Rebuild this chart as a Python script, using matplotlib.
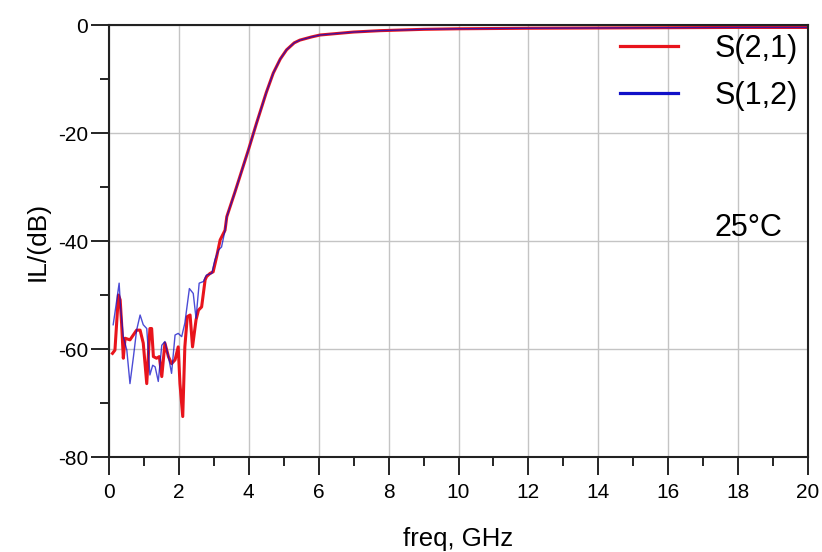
import matplotlib
matplotlib.use("Agg")
import matplotlib.pyplot as plt
import numpy as np
from matplotlib.ticker import MultipleLocator

plt.rcParams['font.family'] = ['Liberation Sans', 'DejaVu Sans']
plt.rcParams['axes.unicode_minus'] = False

# shared upper part of the response (both traces overlap here)
f_hi = [3.37, 3.6, 3.99, 4.22, 4.5, 4.7, 4.9, 5.08, 5.3, 5.46, 5.8, 6.04, 7.0, 7.75,
        9.0, 10.0, 12.0, 14.0, 16.0, 18.0, 20.0]
il_hi = [-35.5, -31.0, -23.1, -18.2, -12.5, -8.9, -6.3, -4.6, -3.3, -2.8, -2.2, -1.85,
         -1.3, -1.05, -0.8, -0.7, -0.6, -0.55, -0.5, -0.45, -0.45]

# S(2,1) noisy stopband
f_s21 = [0.1, 0.17, 0.27, 0.32, 0.36, 0.41, 0.46, 0.6, 0.79, 0.89, 0.98, 1.08, 1.17,
         1.22, 1.27, 1.36, 1.44, 1.51, 1.6, 1.7, 1.79, 1.89, 1.98, 2.03, 2.11, 2.17,
         2.24, 2.32, 2.39, 2.49, 2.56, 2.65, 2.75, 2.79, 2.89, 2.98, 3.08, 3.18, 3.32]
il_s21 = [-60.8, -60.2, -50.0, -50.9, -55.2, -61.7, -58.0, -58.3, -56.5, -56.5, -58.9,
          -66.4, -56.2, -56.2, -61.4, -61.7, -61.4, -65.1, -58.9, -61.4, -62.7, -62.0,
          -59.6, -66.4, -72.5, -59.6, -54.0, -53.7, -59.6, -54.6, -52.8, -52.2, -47.2,
          -46.6, -46.0, -45.7, -42.9, -39.8, -38.0]

# S(1,2) noisy stopband
f_s12 = [0.12, 0.21, 0.29, 0.33, 0.41, 0.51, 0.6, 0.7, 0.79, 0.89, 0.98, 1.08, 1.17,
         1.25, 1.32, 1.41, 1.51, 1.6, 1.7, 1.79, 1.89, 1.98, 2.08, 2.17, 2.3, 2.41,
         2.49, 2.58, 2.7, 2.79, 2.94, 3.03, 3.13, 3.22, 3.32]
il_s12 = [-55.5, -51.5, -47.8, -52.2, -57.7, -60.2, -66.4, -61.4, -56.5, -53.7, -55.5,
          -56.2, -64.8, -63.0, -63.3, -66.0, -59.3, -58.6, -61.4, -64.5, -57.4, -57.1,
          -57.7, -55.2, -48.8, -49.7, -54.3, -47.8, -47.5, -46.3, -46.0, -43.5, -41.7,
          -41.1, -38.0]

fig = plt.figure(figsize=(8.22, 5.52), dpi=100)
ax = fig.add_axes([0.1326, 0.172, 0.8504, 0.7827])

ax.plot(f_s21 + f_hi, il_s21 + il_hi, color='#e8141c', lw=2.2, label='S(2,1)')
ax.plot(f_s12 + f_hi, il_s12 + il_hi, color='#1010c8', lw=1.0, alpha=0.75, label='S(1,2)')

ax.set_xlim(0, 20)
ax.set_ylim(-80, 0)
ax.xaxis.set_major_locator(MultipleLocator(2))
ax.xaxis.set_minor_locator(MultipleLocator(1))
ax.yaxis.set_major_locator(MultipleLocator(20))
ax.yaxis.set_minor_locator(MultipleLocator(10))
ax.grid(True, which='major', color='#c4c4c4', lw=1.0)
ax.set_axisbelow(True)

ax.tick_params(which='major', direction='out', length=13, width=1.2, labelsize=15)
ax.tick_params(axis='x', which='major', pad=6)
ax.tick_params(axis='y', which='major', pad=2)
ax.tick_params(which='minor', direction='out', length=6.5, width=1.2)
ax.tick_params(top=False, right=False)
for s in ax.spines.values():
    s.set_linewidth(1.5)
    s.set_color('#222222')

ax.set_xlabel('freq, GHz', fontsize=18.5, labelpad=18)
ax.set_ylabel('IL/(dB)', fontsize=19, labelpad=6)

leg = ax.legend(loc='upper right', bbox_to_anchor=(0.986, 0.98), frameon=False,
                fontsize=22, handlelength=1.9, handletextpad=1.2, labelspacing=0.56,
                borderpad=0, borderaxespad=0)
for h in leg.get_lines():
    h.set_linewidth(2.3)
    h.set_alpha(1.0)

ax.text(0.866, 0.53, '25°C', transform=ax.transAxes, fontsize=22, va='center', ha='left')

fig.savefig('out.png', dpi=100)
